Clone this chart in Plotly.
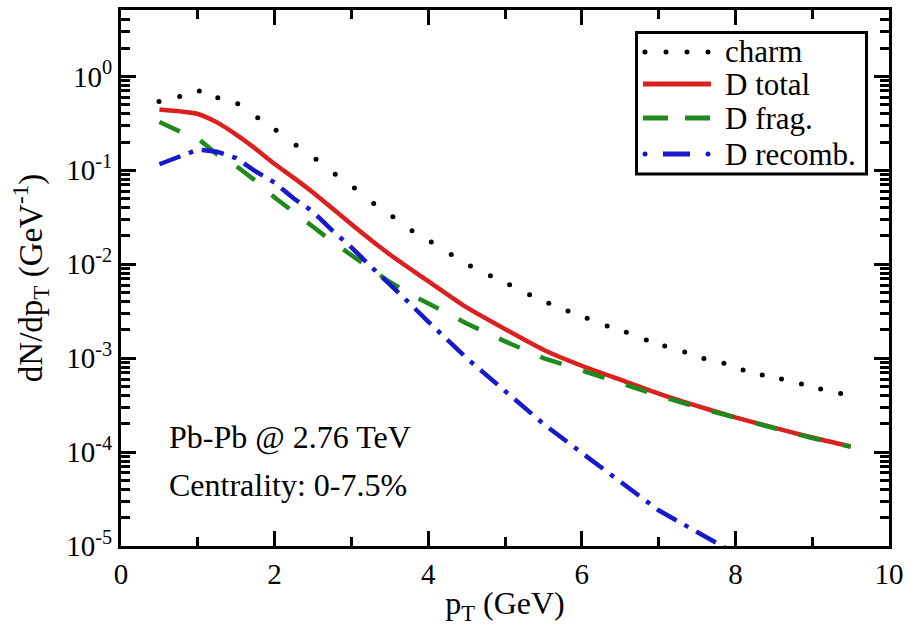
import plotly.graph_objects as go

# ---- spectra: pT (GeV) and dN/dpT (GeV^-1) ----
charm_pt = [0.495, 0.764, 1.02, 1.26, 1.52, 1.78, 2.02, 2.28, 2.54, 2.79, 3.04, 3.29,
            3.54, 3.79, 4.04, 4.30, 4.55, 4.81, 5.06, 5.32, 5.57, 5.82, 6.07, 6.33,
            6.58, 6.84, 7.08, 7.34, 7.59, 7.85, 8.10, 8.35, 8.60, 8.86, 9.11, 9.37]
charm_dndpt = [0.542, 0.612, 0.698, 0.593, 0.513, 0.363, 0.267, 0.185, 0.131, 0.0910,
               0.0650, 0.0444, 0.0320, 0.0227, 0.0173, 0.0127, 0.00957, 0.00755, 0.00605,
               0.00474, 0.00384, 0.00318, 0.00266, 0.00220, 0.00189, 0.00156, 0.00135,
               0.00116, 9.9e-4, 8.8e-4, 7.5e-4, 6.6e-4, 6.0e-4, 5.3e-4, 4.7e-4, 4.2e-4]

total_pt = [0.5, 1.0, 1.25, 1.5, 1.75, 2.0, 2.25, 2.5, 2.75, 3.0, 3.25, 3.5, 3.75, 4.0,
            4.5, 5.0, 5.5, 6.0, 6.5, 7.0, 7.5, 8.0, 8.5, 9.0, 9.5]
total_dndpt = [0.443, 0.398, 0.324, 0.240, 0.170, 0.117, 0.0832, 0.0582, 0.0394, 0.0266,
               0.0182, 0.0127, 0.00912, 0.00661, 0.00347, 0.00204, 0.00123, 8.3e-4,
               5.9e-4, 4.2e-4, 3.1e-4, 2.34e-4, 1.82e-4, 1.43e-4, 1.15e-4]

frag_pt = [0.5, 0.75, 1.0, 1.25, 1.5, 1.75, 2.0, 2.25, 2.5, 2.75, 3.0, 3.25, 3.5, 3.75,
           4.0, 4.5, 5.0, 5.5, 6.0, 6.5, 7.0, 7.5, 8.0, 8.5, 9.0, 9.5]
frag_dndpt = [0.327, 0.263, 0.219, 0.148, 0.111, 0.0776, 0.0513, 0.0363, 0.0251, 0.0174,
              0.0126, 0.00912, 0.00646, 0.0049, 0.0038, 0.00234, 0.00151, 0.00100,
              7.4e-4, 5.4e-4, 4.0e-4, 3.0e-4, 2.3e-4, 1.8e-4, 1.41e-4, 1.14e-4]

recomb_pt = [0.5, 0.75, 1.0, 1.25, 1.5, 1.75, 2.0, 2.25, 2.5, 2.75, 3.0, 3.25, 3.5, 3.75,
             4.0, 4.5, 5.0, 5.5, 6.0, 6.5, 7.0, 7.5, 8.0]
recomb_dndpt = [0.116, 0.138, 0.166, 0.158, 0.135, 0.0977, 0.0741, 0.0501, 0.0363, 0.0229,
                0.0151, 0.00955, 0.00617, 0.00389, 0.00245, 0.00100, 4.47e-4, 2.0e-4,
                9.8e-5, 4.8e-5, 2.4e-5, 1.41e-5, 8.3e-6]

# decade labels shown as 10^n (both micro-sign spellings covered)
y_label_alias = {"1": "10<sup>0</sup>", "0.1": "10<sup>-1</sup>",
                 "0.01": "10<sup>-2</sup>", "0.001": "10<sup>-3</sup>",
                 "100\u03bc": "10<sup>-4</sup>", "10\u03bc": "10<sup>-5</sup>",
                 "100\u00b5": "10<sup>-4</sup>", "10\u00b5": "10<sup>-5</sup>"}
legend_labels = ["charm", "D total", "D frag.", "D recomb."]
info_lines = ["Pb-Pb @ 2.76 TeV", "Centrality: 0-7.5%"]
x_title = "p<sub>T</sub> (GeV)"
y_title = "dN/dp<sub>T</sub> (GeV<sup>-1</sup>)"

RED = "#dc2020"
GREEN = "#1e8a1e"
BLUE = "#1818cc"
FONT = "Liberation Serif"

# plot-area geometry in pixels (used to place the hand-drawn legend and texts)
W, H = 920, 626
ML, MR, MT, MB = 121, 31, 10, 80
PW, PH = W - ML - MR, H - MT - MB


def px(x):
    return (x - ML) / PW


def py(y):
    return (H - MB - y) / PH


fig = go.Figure()
fig.add_trace(go.Scatter(x=charm_pt, y=charm_dndpt, mode="markers",
                         marker=dict(color="black", size=5), name=legend_labels[0]))
fig.add_trace(go.Scatter(x=total_pt, y=total_dndpt, mode="lines",
                         line=dict(color=RED, width=4.5, shape="spline", smoothing=0.6),
                         name=legend_labels[1]))
fig.add_trace(go.Scatter(x=frag_pt, y=frag_dndpt, mode="lines",
                         line=dict(color=GREEN, width=4.5, dash="longdash"),
                         name=legend_labels[2]))
fig.add_trace(go.Scatter(x=recomb_pt, y=recomb_dndpt, mode="lines",
                         line=dict(color=BLUE, width=4.5, dash="longdashdot"),
                         name=legend_labels[3]))

fig.update_xaxes(range=[0, 10], tick0=0, dtick=2, ticks="inside", ticklen=15,
                 tickwidth=2.5, tickcolor="black", showline=True, linewidth=3,
                 linecolor="black", mirror="allticks", automargin=False,
                 minor=dict(ticks="inside", ticklen=9, dtick=1),
                 title=dict(text=x_title, standoff=4,
                            font=dict(family=FONT, size=32, color="black")))
fig.update_yaxes(type="log", range=[-5, 0.707], dtick=1, labelalias=y_label_alias,
                 ticks="inside", ticklen=15, tickwidth=2.5, tickcolor="black",
                 showline=True, linewidth=3, linecolor="black", mirror="allticks",
                 automargin=False,
                 minor=dict(ticks="inside", ticklen=9, dtick="D1"),
                 title=dict(text=y_title, standoff=14,
                            font=dict(family=FONT, size=33, color="black")))

shapes = []
annotations = []

# legend frame
shapes.append(dict(type="rect", xref="paper", yref="paper",
                   x0=px(636.5), x1=px(866.5), y0=py(174), y1=py(32.5),
                   line=dict(color="black", width=3), fillcolor="white", layer="above"))
legend_rows = [52, 84, 118, 154]


def seg(x0, x1, row, color):
    return dict(type="line", xref="paper", yref="paper", x0=px(x0), x1=px(x1),
                y0=py(row), y1=py(row), line=dict(color=color, width=5))


def dot(xc, row, color):
    return dict(type="circle", xref="paper", yref="paper", x0=px(xc - 2.5),
                x1=px(xc + 2.5), y0=py(row + 2.5), y1=py(row - 2.5),
                fillcolor=color, line=dict(color=color, width=0))


# legend samples: dotted, solid, dashed, dash-dot
for xc in [645, 666, 687, 708]:
    shapes.append(dot(xc, legend_rows[0], "black"))
shapes.append(seg(643, 711, legend_rows[1], RED))
shapes.append(seg(643, 668, legend_rows[2], GREEN))
shapes.append(seg(685, 710, legend_rows[2], GREEN))
shapes.append(dot(645, legend_rows[3], BLUE))
shapes.append(seg(663, 690, legend_rows[3], BLUE))
shapes.append(dot(708, legend_rows[3], BLUE))

for row, label in zip(legend_rows, legend_labels):
    annotations.append(dict(text=label, xref="paper", yref="paper", x=px(723), y=py(row),
                            xanchor="left", yanchor="middle", showarrow=False,
                            font=dict(family=FONT, size=31, color="black")))

# collision system / centrality
for yy, line in zip([437, 485], info_lines):
    annotations.append(dict(text=line, xref="paper", yref="paper", x=px(167), y=py(yy),
                            xanchor="left", yanchor="middle", showarrow=False,
                            font=dict(family=FONT, size=32, color="black")))

fig.update_layout(
    width=W, height=H, margin=dict(l=ML, r=MR, t=MT, b=MB),
    plot_bgcolor="white", showlegend=False,
    font=dict(family=FONT, size=29, color="black"),
    shapes=shapes, annotations=annotations,
)

fig.write_html("out.html")
